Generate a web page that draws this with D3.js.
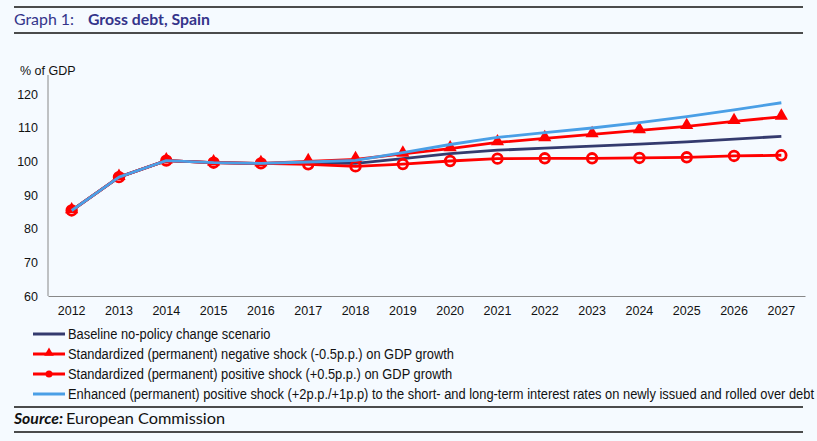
<!DOCTYPE html>
<html>
<head>
<meta charset="utf-8">
<script src="https://cdn.jsdelivr.net/npm/d3@7"></script>
<style>
  html, body { margin: 0; padding: 0; background: #f5faff; }
  svg { display: block; }
</style>
</head>
<body>
<div class="graph-d3"></div>
<script>
    var years = ["2012","2013","2014","2015","2016","2017","2018","2019","2020","2021","2022","2023","2024","2025","2026","2027"];
    var baseline = [85.4, 95.3, 100.2, 99.6, 99.4, 99.5, 99.4, 100.8, 102.3, 103.3, 103.9, 104.5, 105.1, 105.8, 106.6, 107.4];
    var negShock = [85.4, 95.3, 100.2, 99.6, 99.4, 100.0, 100.6, 102.2, 103.8, 105.6, 106.8, 108.0, 109.2, 110.4, 111.9, 113.2];
    var posShock = [85.4, 95.3, 100.2, 99.6, 99.4, 99.1, 98.5, 99.2, 100.1, 100.8, 100.9, 100.9, 101.0, 101.2, 101.6, 101.8];
    var rateShock = [85.4, 95.3, 100.2, 99.6, 99.4, 99.8, 100.3, 102.6, 105.0, 107.1, 108.5, 109.9, 111.5, 113.3, 115.3, 117.4];
    var yTicks = [60, 70, 80, 90, 100, 110, 120];
    var legendLabels = [
        "Baseline no-policy change scenario",
        "Standardized (permanent) negative shock (-0.5p.p.) on GDP growth",
        "Standardized (permanent) positive shock (+0.5p.p.) on GDP growth",
        "Enhanced (permanent) positive shock (+2p.p./+1p.p) to the short- and long-term interest rates on newly issued and rolled over debt"
    ];

    var
        width = 817,
        height = 441,
        navy = "#343a6e",
        red = "#ff0000",
        blue = "#4a9fe6",
        titleCol = "#34348a",
        axisFont = "Liberation Sans, Arial, sans-serif",
        headFont = "Lato, 'DejaVu Sans', sans-serif",
        svg = d3.select('.graph-d3').append('svg').attr("width", width).attr("height", height);

    svg.append("rect").attr("width", width).attr("height", height).attr("fill", "#f5faff");

    // header / footer rules
    [7, 33, 407, 432].forEach(function(y){
        svg.append("line").attr("x1", 14).attr("x2", 803).attr("y1", y).attr("y2", y)
            .attr("stroke", "#111").attr("stroke-width", 1.3);
    });

    // header and source: stretched to the width of the original geometric face
    function wideText(str, x0, y0, len, size, weight, style, color) {
        return svg.append("text").attr("x", x0).attr("y", y0).text(str)
            .attr("font-family", headFont).attr("font-size", size)
            .attr("font-weight", weight).attr("font-style", style)
            .attr("textLength", len).attr("lengthAdjust", "spacingAndGlyphs")
            .attr("fill", color);
    }
    wideText("Graph 1:", 14, 25, 60, 15, "normal", "normal", titleCol);
    wideText("Gross debt, Spain", 88, 25, 122, 15.5, "bold", "normal", titleCol);
    wideText("Source:", 14, 424, 49, 15, "bold", "italic", "#111");
    wideText("European Commission", 66, 424, 159, 15, "normal", "normal", "#111");

    // scales
    var
        x = d3.scaleBand().domain(years).range([48, 805]),
        y = d3.scaleLinear().domain([60, 120]).range([296, 94]);

    svg.append("g").attr("transform", "translate(48,0)")
        .call(d3.axisLeft(y).tickValues(yTicks).tickSize(0).tickPadding(10))
        .call(function(g){
            g.select(".domain").attr("stroke", "#888").attr("d", "M0,75V296");
            g.selectAll("text").attr("font-family", axisFont).attr("font-size", 12.5).attr("fill", "#111");
        });

    svg.append("g").attr("transform", "translate(0,296)")
        .call(d3.axisBottom(x).tickSize(0).tickPadding(10))
        .call(function(g){
            g.select(".domain").attr("stroke", "#888");
            g.selectAll("text").attr("font-family", axisFont).attr("font-size", 12.5).attr("fill", "#111");
        });

    svg.append("text").attr("x", 20).attr("y", 75).text("% of GDP")
        .attr("font-family", axisFont).attr("font-size", 12.5).attr("fill", "#111");

    var line = d3.line()
        .x(function(d, i){ return x(years[i]) + x.bandwidth() / 2; })
        .y(function(d){ return y(d); });

    var tri = d3.symbol().type(d3.symbolTriangle).size(75);

    function drawSeries(values, color, marker) {
        svg.append("path").attr("d", line(values)).attr("fill", "none")
            .attr("stroke", color).attr("stroke-width", 2.8).attr("stroke-linejoin", "round");
        if (marker === "triangle") {
            svg.selectAll(null).data(values).enter().append("path")
                .attr("d", tri)
                .attr("transform", function(d, i){ return "translate(" + (x(years[i]) + x.bandwidth() / 2) + "," + (y(d) - 1) + ")"; })
                .attr("fill", color);
        }
        if (marker === "circle") {
            svg.selectAll(null).data(values).enter().append("circle")
                .attr("cx", function(d, i){ return x(years[i]) + x.bandwidth() / 2; })
                .attr("cy", function(d){ return y(d); })
                .attr("r", 4.8)
                .attr("fill", "none").attr("stroke", color).attr("stroke-width", 2.8);
        }
    }

    drawSeries(baseline, navy);
    drawSeries(negShock, red, "triangle");
    drawSeries(posShock, red, "circle");
    drawSeries(rateShock, blue);

    // legend
    var legend = [
        {color: navy, marker: null},
        {color: red, marker: "triangle"},
        {color: red, marker: "circle"},
        {color: blue, marker: null}
    ];
    legend.forEach(function(l, i){
        var ly = 334 + i * 20;
        svg.append("line").attr("x1", 33).attr("x2", 65).attr("y1", ly).attr("y2", ly)
            .attr("stroke", l.color).attr("stroke-width", 3);
        if (l.marker === "triangle") {
            svg.append("path").attr("d", d3.symbol().type(d3.symbolTriangle).size(40))
                .attr("transform", "translate(49," + (ly - 1) + ")").attr("fill", l.color);
        }
        if (l.marker === "circle") {
            svg.append("circle").attr("cx", 49).attr("cy", ly).attr("r", 3.5).attr("fill", l.color);
        }
        // narrow look: squeeze the text horizontally
        svg.append("text").attr("transform", "translate(68," + (ly + 5) + ") scale(0.92,1)")
            .text(legendLabels[i])
            .attr("font-family", axisFont)
            .attr("font-size", 14).attr("fill", "#111");
    });
</script>
</body>
</html>
